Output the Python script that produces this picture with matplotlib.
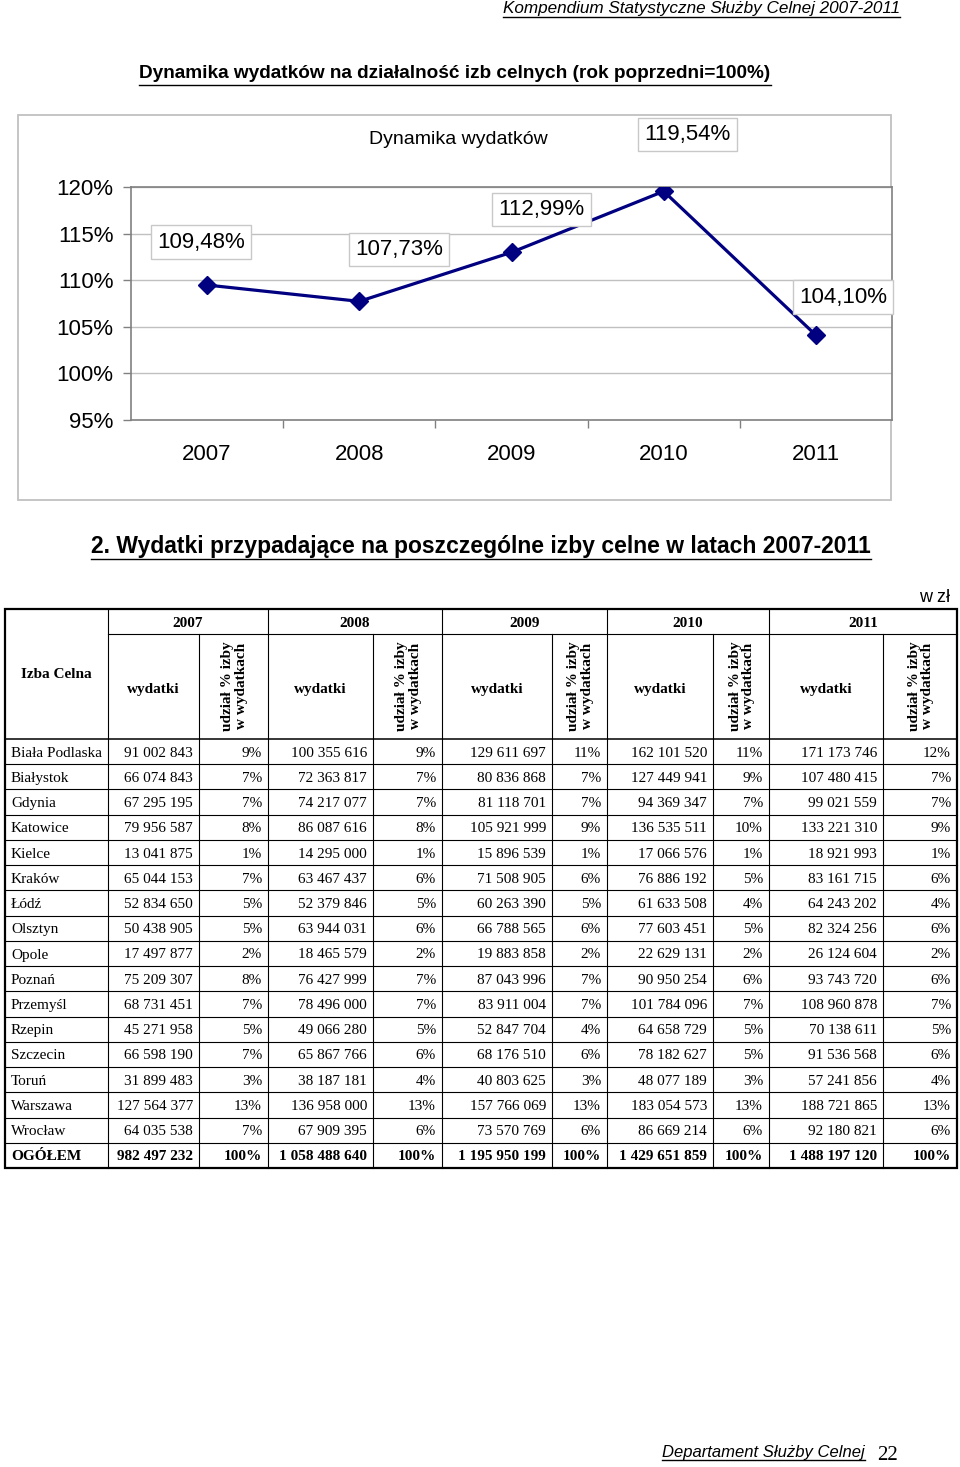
import matplotlib
matplotlib.use('Agg')
import matplotlib.pyplot as plt
import numpy as np
from matplotlib.patches import Rectangle

# ---------------- data ----------------
years = ['2007', '2008', '2009', '2010', '2011']
dynamics = [109.48, 107.73, 112.99, 119.54, 104.10]
dyn_labels = ['109,48%', '107,73%', '112,99%', '119,54%', '104,10%']
y_ticks = [95, 100, 105, 110, 115, 120]

izby = ['Biała Podlaska', 'Białystok', 'Gdynia', 'Katowice', 'Kielce', 'Kraków',
        'Łódź', 'Olsztyn', 'Opole', 'Poznań', 'Przemyśl', 'Rzepin', 'Szczecin',
        'Toruń', 'Warszawa', 'Wrocław', 'OGÓŁEM']
wyd_2007 = [91002843, 66074843, 67295195, 79956587, 13041875, 65044153, 52834650,
            50438905, 17497877, 75209307, 68731451, 45271958, 66598190, 31899483,
            127564377, 64035538, 982497232]
udz_2007 = [9, 7, 7, 8, 1, 7, 5, 5, 2, 8, 7, 5, 7, 3, 13, 7, 100]
wyd_2008 = [100355616, 72363817, 74217077, 86087616, 14295000, 63467437, 52379846,
            63944031, 18465579, 76427999, 78496000, 49066280, 65867766, 38187181,
            136958000, 67909395, 1058488640]
udz_2008 = [9, 7, 7, 8, 1, 6, 5, 6, 2, 7, 7, 5, 6, 4, 13, 6, 100]
wyd_2009 = [129611697, 80836868, 81118701, 105921999, 15896539, 71508905, 60263390,
            66788565, 19883858, 87043996, 83911004, 52847704, 68176510, 40803625,
            157766069, 73570769, 1195950199]
udz_2009 = [11, 7, 7, 9, 1, 6, 5, 6, 2, 7, 7, 4, 6, 3, 13, 6, 100]
wyd_2010 = [162101520, 127449941, 94369347, 136535511, 17066576, 76886192, 61633508,
            77603451, 22629131, 90950254, 101784096, 64658729, 78182627, 48077189,
            183054573, 86669214, 1429651859]
udz_2010 = [11, 9, 7, 10, 1, 5, 4, 5, 2, 6, 7, 5, 5, 3, 13, 6, 100]
wyd_2011 = [171173746, 107480415, 99021559, 133221310, 18921993, 83161715, 64243202,
            82324256, 26124604, 93743720, 108960878, 70138611, 91536568, 57241856,
            188721865, 92180821, 1488197120]
udz_2011 = [12, 7, 7, 9, 1, 6, 4, 6, 2, 6, 7, 5, 6, 4, 13, 6, 100]

wydatki = [wyd_2007, wyd_2008, wyd_2009, wyd_2010, wyd_2011]
udzialy = [udz_2007, udz_2008, udz_2009, udz_2010, udz_2011]

# ---------------- figure ----------------
W, H = 960, 1467
DPI = 100
fig = plt.figure(figsize=(W / DPI, H / DPI), dpi=DPI)
fig.patch.set_facecolor('white')

ax_o = fig.add_axes([0, 0, 1, 1])
ax_o.set_xlim(0, W)
ax_o.set_ylim(H, 0)
ax_o.axis('off')

SANS = 'Liberation Sans'
SERIF = 'Liberation Serif'
underlines = []


def utext(x, y, s, uy, **kw):
    t = ax_o.text(x, y, s, **kw)
    underlines.append((t, uy))
    return t


# header texts
utext(900, 9, 'Kompendium Statystyczne Służby Celnej 2007-2011', 17,
      ha='right', va='center', family=SANS, style='italic', fontsize=12.3)
utext(455, 74, 'Dynamika wydatków na działalność izb celnych (rok poprzedni=100%)', 85,
      ha='center', va='center', family=SANS, weight='bold', fontsize=13.7)

# chart outer border
ax_o.add_patch(Rectangle((18, 115), 891 - 18, 500 - 115, fill=False,
                         edgecolor='#c0c0c0', lw=1.3))
ax_o.text(458, 139, 'Dynamika wydatków', ha='center', va='center',
          family=SANS, fontsize=14)

# ---------------- line chart ----------------
ax = fig.add_axes([131 / W, 1 - 420 / H, (892 - 131) / W, (420 - 187) / H])
xpos = np.arange(1, len(years) + 1)
ax.plot(xpos, dynamics, color='#000080', lw=2.3, marker='D', ms=9,
        markerfacecolor='#000080', markeredgecolor='#000080', zorder=3)
ax.set_xlim(0.5, len(years) + 0.5)
ax.set_ylim(min(y_ticks), max(y_ticks))
ax.set_yticks(y_ticks)
ax.set_yticklabels([f'{v}%' for v in y_ticks], family=SANS, fontsize=16)
ax.set_xticks(xpos)
ax.set_xticklabels(years, family=SANS, fontsize=16)
ax.set_xticks(np.arange(1.5, len(years), 1), minor=True)
ax.tick_params(axis='x', which='major', length=0, pad=17.5)
ax.tick_params(axis='x', which='minor', length=6, color='#808080', width=1)
ax.tick_params(axis='y', length=6, color='#808080', width=1, pad=6.5)
ax.yaxis.grid(True, color='#c0c0c0', lw=1)
ax.set_axisbelow(True)
for s in ax.spines.values():
    s.set_color('#808080')
    s.set_linewidth(1.2)

label_offsets = [(-6, 43), (40, 52), (30, 43), (24, 57), (27, 38)]
for xi, v, lab, off in zip(xpos, dynamics, dyn_labels, label_offsets):
    ax.annotate(lab, (xi, v), xytext=off, textcoords='offset pixels',
                ha='center', va='center', family=SANS, fontsize=16,
                annotation_clip=False, clip_on=False, zorder=5,
                bbox=dict(boxstyle='square,pad=0.28', facecolor='white',
                          edgecolor='#c8c8c8', lw=1))

# ---------------- section title ----------------
utext(481, 546, '2. Wydatki przypadające na poszczególne izby celne w latach 2007-2011', 559,
      ha='center', va='center', family=SANS, weight='bold', fontsize=16.5)
ax_o.text(950, 598, 'w zł', ha='right', va='center', family=SANS, fontsize=13)

# ---------------- table ----------------
cx = [5, 108, 199, 268, 373, 442, 552, 607, 713, 769, 883, 957]
t_top, t_year, t_head, t_bot = 609, 634, 739, 1168
n_rows = len(izby)
row_h = (t_bot - t_head) / n_rows

lw_in = 0.8
lw_out = 1.6
# horizontal lines
ax_o.plot([cx[1], cx[-1]], [t_year, t_year], color='black', lw=lw_in)
ax_o.plot([cx[0], cx[-1]], [t_head, t_head], color='black', lw=1.1)
for i in range(1, n_rows):
    y = t_head + i * row_h
    ax_o.plot([cx[0], cx[-1]], [y, y], color='black', lw=lw_in)
# vertical lines
for j, x in enumerate(cx[1:-1], start=1):
    if j % 2 == 1:
        ax_o.plot([x, x], [t_top, t_bot], color='black', lw=lw_in)
    else:
        ax_o.plot([x, x], [t_year, t_bot], color='black', lw=lw_in)
ax_o.add_patch(Rectangle((cx[0], t_top), cx[-1] - cx[0], t_bot - t_top,
                         fill=False, edgecolor='black', lw=lw_out))

FS = 11
ax_o.text((cx[0] + cx[1]) / 2, 675, 'Izba Celna', ha='center', va='center',
          family=SERIF, weight='bold', fontsize=FS)
for k, yr in enumerate(years):
    xl, xm, xr = cx[1 + 2 * k], cx[2 + 2 * k], cx[3 + 2 * k]
    ax_o.text((xl + xr) / 2, 623.5, yr, ha='center', va='center',
              family=SERIF, weight='bold', fontsize=FS)
    ax_o.text((xl + xm) / 2, 689.5, 'wydatki', ha='center', va='center',
              family=SERIF, weight='bold', fontsize=FS)
    ax_o.text((xm + xr) / 2 + 1, 686, 'udział % izby\nw wydatkach', ha='center',
              va='center', rotation=90, multialignment='center',
              family=SERIF, weight='bold', fontsize=FS, linespacing=1.0)


def fmt(v):
    return f'{v:,}'.replace(',', ' ')


for i, name in enumerate(izby):
    yc = t_head + (i + 0.5) * row_h + 1.5
    bold = 'bold' if i == n_rows - 1 else 'normal'
    ax_o.text(cx[0] + 6, yc, name, ha='left', va='center', family=SERIF,
              weight=bold, fontsize=FS)
    for k in range(len(years)):
        xm, xr = cx[2 + 2 * k], cx[3 + 2 * k]
        ax_o.text(xm - 6, yc, fmt(wydatki[k][i]), ha='right', va='center',
                  family=SERIF, weight=bold, fontsize=FS)
        ax_o.text(xr - 6, yc, f'{udzialy[k][i]}%', ha='right', va='center',
                  family=SERIF, weight=bold, fontsize=FS)

# ---------------- footer ----------------
utext(865, 1452, 'Departament Służby Celnej', 1460, ha='right', va='center',
      family=SANS, style='italic', fontsize=12)
ax_o.text(877, 1456, '22', ha='left', va='center', family=SERIF, fontsize=15)

# underlines
fig.canvas.draw()
renderer = fig.canvas.get_renderer()
for t, uy in underlines:
    bb = t.get_window_extent(renderer)
    ax_o.plot([bb.x0, bb.x1], [uy, uy], color='black', lw=1)

fig.savefig('out.png', dpi=DPI, facecolor='white')
